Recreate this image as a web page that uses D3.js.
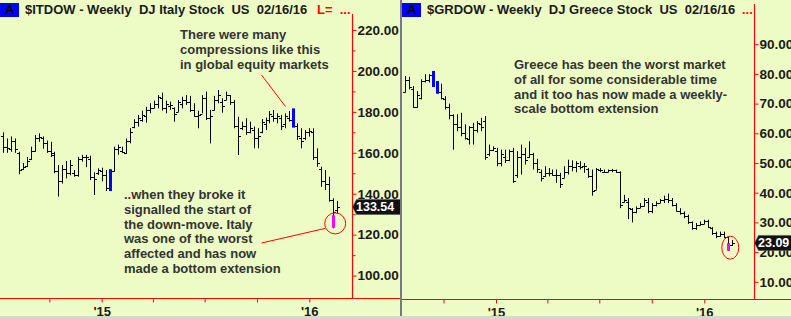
<!DOCTYPE html>
<html>
<head>
<meta charset="utf-8">
<script src="https://cdn.jsdelivr.net/npm/d3@7/dist/d3.min.js"></script>
<style>
  html, body { margin: 0; padding: 0; background: #edfcc5; }
  svg { display: block; font-family: "Liberation Sans", Arial, sans-serif; }
  text { white-space: pre; }
</style>
</head>
<body>
<div id="chart"></div>
<script>
// weekly bars, one per Friday
const itFirstWeek = new Date(2014, 6, 11);
const grFirstWeek = new Date(2014, 6, 25);
const lastWeek = new Date(2016, 1, 19);

// $ITDOW - DJ Italy (weekly OHLC)
const itOpen = [168,163,162,166,160,152,153.5,157,161,167, 167,165,161,159,151,146,152,150,150,149,
  157,158,157,148,150,151,149,143,151,162, 161,160,166,172.5,175,176,178,181,182,184,
  187,182,183,182,180,184,186,185,181,178, 179,187,177,181,186,185,186,188,185,173,
  172,173,170,171,167,170,174,176,178,177, 177,174,177,176,173,167,167,170,170,158,
  152,146,145,137,132];
const itHigh = [170,167,168,167,160.5,155,158,163,168.7,169.5, 168,166,165.4,160.5,154,154,156,156.5,151.6,158,
  159,159,158.6,150.5,152.4,152.7,151.6,152,163,164, 163,167,172,176.4,178.5,180.6,182.5,184.2,185.5,188.2,
  189.4,185.5,185,182.2,185.8,187.4,188.2,187.8,184.2,180.6, 188.2,189.9,181,187.8,190.7,186.6,189.9,188.2,185.8,177.6,
  175.2,176.9,175.2,172.8,172,176.5,177.2,180.4,180.9,179.3, 178.5,179.3,180.4,181.7,174.4,172,171.1,172,172,162.2,
  153.2,151.6,148.3,137.8,136.5];
const itLow = [160,160,160.5,160,149.5,151.6,153,156.5,160.5,165.4, 162,160,158,150,138.6,145,147.5,149,148.3,148.3,
  155.7,153,146.7,139.4,149.2,146,141.3,141.3,150.8,159, 159.8,159.4,164.6,172,172.8,175.2,174.7,179.3,181.7,181.7,
  180.6,179.3,181,175.2,180,181.7,183.4,180,177.6,172, 179.3,176,164.6,180.6,184.2,179.6,185.8,183.4,172,158.9,
  171.1,168.7,169.5,162.2,162.2,169.5,171.1,174.4,175.2,174.4, 171.1,172,175.2,172.3,166.3,162.2,166.3,167.9,156.5,153.2,
  143.4,141.8,136.1,123.1,130.5];
const itClose = [163,162.5,166,162,151.5,153,156,161,167,167.5, 165,161,160,151,146,152,150,154,149,157,
  158,158,148,147,151.5,149,143,151,162,163, 160.5,166,170,175,177,178.5,181,182,184,187.5,
  182,184,183.5,179,185,186,185,181,178,178.5, 187,177,178,186,188,183,188,185,173,168,
  173,170,172,167,168,175,176,179,177,178, 173,178,176,173,168,166,170,170.5,158,155,
  146,145,137,131,133.54];
const itBlueBars = [27, 73];
const itPinkBar = 83, itPinkRange = [123.4, 129.5];

// $GRDOW - DJ Greece (weekly OHLC)
const grOpen = [74,78,75,69,72,77.5,78,80,76,74, 71.5,69,66,63,62,60,58,62,61,63,
  64,53,54.5,54,50,52,51,54,46,52, 53,52,53,50,47,45.5,46.5,46.5,46,46,
  45,47,49,48.5,49,49,48,45.5,41,47.5, 47,47,47.5,47.5,47,37,37,34.5,33.5,35,
  35.5,37,34,36,36.5,37.5,38,37.5,36,34, 33,32,30,28,29,29.5,30.5,28,26.5,25.5,
  26,25,22.5];
const grHigh = [79.3,79,75.9,74.2,78.2,79.9,79.9,81,77.6,76.7, 72.5,70,66.4,66.4,66.9,63,62.4,63.5,64.1,65.2,
  65.8,56.2,55.6,55.1,54.5,54.5,54.5,55.1,54,56.2, 55.1,57.3,53.4,51.4,47.8,48.9,48.3,47.8,47.8,46.7,
  48.9,51.1,50.9,50.6,50.6,50,48.3,47.8,48.3,48.3, 47.8,47.8,48,47.8,47.2,39.3,38.2,34.8,35.4,36.5,
  38.2,38.2,36.5,37.1,37.9,39,39.7,38.2,36.5,34.8, 33.7,32.6,30.3,29.8,30.3,30.9,30.9,28.4,26.9,26.9,
  26.9,25.2,24.1];
const grLow = [73.7,74.8,68.6,68.6,71.4,77.1,77.1,75.6,73.3,71.4, 68,64.7,54.5,60.7,59,57.9,56.2,56.2,60.2,60.7,
  51.1,52.3,54,48.9,48.9,50,50.6,43.3,45,46.1, 49.5,51.7,47.8,46.7,43.8,45.3,45.5,45.7,43.3,41.6,
  45,46.1,47.2,46.9,47.8,46.7,45,39,41,46.9, 46.7,46.9,46.9,46.7,34.8,36.7,31.1,30,33.1,34.8,
  35.4,33.1,33.1,35.4,36.5,36.5,36.5,35.4,33.7,32.6, 31.4,29.5,27.5,27.5,28.9,29.4,28.1,25.8,24.7,25.2,
  24.7,20.4,22.1];
const grClose = [78,75.5,69,73,77.5,78,79.5,76,74,72, 69,66,63,62,60,58.5,62,61,63.5,62,
  52,54.5,55,50,53,51,54,44,52,53, 51,53,50,48,45,46.5,46.5,46,46,43,
  47,49,48.5,50,48.5,49,45.5,40.5,48,47.5, 47,47.5,47.5,47,36,37.5,35,33.5,35,35.5,
  37.5,34,36,36.5,37.5,38,37.5,36,34,33, 32,30,28,29,29.5,30.5,28.5,26.5,25.5,26,
  25,22.5,23.09];
const grBlueBars = [7, 8];
const grPinkBar = 81, grPinkRange = [20.4, 23];

// axes
const itTicks = [100, 120, 140, 160, 180, 200, 220];
const itMinorTicks = [110, 130, 150, 170, 190, 210];
const grTicks = [10, 20, 30, 40, 50, 60, 70, 80, 90];
const quarterTicks = [new Date(2014, 9, 1), new Date(2015, 0, 1), new Date(2015, 3, 1),
  new Date(2015, 6, 1), new Date(2015, 9, 1), new Date(2016, 0, 1)];
const yearLabels = {2015: "'15", 2016: "'16"};

const itTitle = '$ITDOW - Weekly  DJ Italy Stock  US  02/16/16';
const grTitle = '$GRDOW - Weekly  DJ Greece Stock  US  02/16/16';
const itNoteTop = ['There were many', 'compressions like this', 'in global equity markets'];
const itNoteBottom = ['..when they broke it', 'signalled the start of', 'the down-move. Italy',
  'was one of the worst', 'affected and has now', 'made a bottom extension'];
const grNote = ['Greece has been the worst market', 'of all for some considerable time',
  'and it too has now made a weekly-', 'scale bottom extension'];

const W = 791, H = 319;
const RED = '#ff0000', INK = '#1a1a1a', NOTE = '#333333';

const svg = d3.select('#chart').append('svg').attr('width', W).attr('height', H);
svg.append('rect').attr('width', W).attr('height', H).attr('fill', '#edfcc5');
const defs = svg.append('defs');

function drawPanel(p) {
  const g = svg.append('g');
  const clipId = 'clip-' + p.id;
  defs.append('clipPath').attr('id', clipId)
    .append('rect').attr('x', p.x0).attr('y', p.top).attr('width', p.axisX - p.x0).attr('height', p.baseY - p.top);
  const panelClip = 'panel-' + p.id;
  defs.append('clipPath').attr('id', panelClip)
    .append('rect').attr('x', p.x0).attr('y', 0).attr('width', p.x1 - p.x0).attr('height', H);

  const x = d3.scaleTime().domain([new Date(2015, 0, 1), new Date(2016, 0, 1)]).range(p.xYears);
  const y = d3.scaleLinear().domain(p.yDomain).range(p.yRange);
  const dates = d3.timeFriday.range(p.first, d3.timeDay.offset(lastWeek, 1));

  // bars
  const bars = g.append('g').attr('clip-path', `url(#${clipId})`);
  dates.forEach((d, i) => {
    const px = Math.round(x(d)) + 0.5;
    if (p.blue.includes(i)) {
      bars.append('rect').attr('x', px - 1.5).attr('width', 3)
        .attr('y', y(p.high[i])).attr('height', y(p.low[i]) - y(p.high[i])).attr('fill', '#0000ff');
      return;
    }
    const yo = Math.round(y(p.open[i])) + 0.5, yc = Math.round(y(p.close[i])) + 0.5;
    bars.append('line').attr('x1', px).attr('x2', px).attr('y1', y(p.high[i])).attr('y2', y(p.low[i]))
      .attr('stroke', '#000').attr('stroke-width', 1);
    bars.append('line').attr('x1', px - 2.5).attr('x2', px).attr('y1', yo).attr('y2', yo).attr('stroke', '#000');
    bars.append('line').attr('x1', px).attr('x2', px + 2.5).attr('y1', yc).attr('y2', yc).attr('stroke', '#000');
    if (i === p.pink) {
      bars.append('rect').attr('x', px - 1.5).attr('width', 3)
        .attr('y', y(p.pinkRange[1])).attr('height', y(p.pinkRange[0]) - y(p.pinkRange[1])).attr('fill', '#ff00ff');
    }
  });

  const frame = g.append('g').attr('clip-path', `url(#${panelClip})`);

  // x axis
  frame.append('line').attr('x1', p.x0).attr('x2', p.x1).attr('y1', p.baseY).attr('y2', p.baseY)
    .attr('stroke', RED).attr('stroke-width', 1.2);
  const xAxis = frame.append('g').attr('transform', `translate(0,${p.baseY})`)
    .call(d3.axisBottom(x).tickValues(quarterTicks).tickSize(4).tickPadding(4)
      .tickFormat(d => d.getMonth() === 0 ? yearLabels[d.getFullYear()] : ''));
  xAxis.select('.domain').remove();
  xAxis.selectAll('line').attr('stroke', RED);
  xAxis.selectAll('text').attr('fill', INK).attr('font-size', 13).attr('font-weight', 'bold')
    .attr('font-family', '"Liberation Sans", Arial, sans-serif');

  // y axis
  frame.append('line').attr('x1', p.axisX).attr('x2', p.axisX).attr('y1', p.top).attr('y2', p.baseY)
    .attr('stroke', RED).attr('stroke-width', 1.2);
  const yAxis = frame.append('g').attr('transform', `translate(${p.axisX},0)`)
    .call(d3.axisRight(y).tickValues(p.ticks).tickSize(4).tickPadding(1).tickFormat(d3.format('.2f')));
  yAxis.select('.domain').remove();
  yAxis.selectAll('line').attr('stroke', RED);
  yAxis.selectAll('text').attr('fill', INK).attr('font-size', 13.5).attr('font-weight', 'bold')
    .attr('font-family', '"Liberation Sans", Arial, sans-serif');
  if (p.minor.length) {
    const minor = frame.append('g').attr('transform', `translate(${p.axisX},0)`)
      .call(d3.axisRight(y).tickValues(p.minor).tickSize(3).tickFormat(''));
    minor.select('.domain').remove();
    minor.selectAll('line').attr('stroke', RED);
  }

  // last value tag
  const last = p.close[p.close.length - 1];
  const ty = y(last), tx = p.axisX;
  frame.append('path')
    .attr('d', `M${tx},${ty} L${tx + 4},${ty - 7.5} L${p.x1 + 4},${ty - 7.5} L${p.x1 + 4},${ty + 7.5} L${tx + 4},${ty + 7.5} Z`)
    .attr('fill', '#111').attr('stroke', '#555').attr('stroke-width', 0.6);
  frame.append('text').attr('x', tx + 3.5).attr('y', ty + 4.5).text(last.toFixed(2))
    .attr('fill', '#fff').attr('font-size', 12.5).attr('font-weight', 'bold');

  // title
  frame.append('rect').attr('x', p.x0).attr('y', 3).attr('width', 19).attr('height', 14).attr('fill', '#0000ff');
  frame.append('text').attr('x', p.x0 + 5).attr('y', 14).text('A')
    .attr('fill', '#000').attr('font-size', 13).attr('font-weight', 'bold');
  const titleClip = 'title-' + p.id;
  defs.append('clipPath').attr('id', titleClip)
    .append('rect').attr('x', p.x0).attr('y', 0).attr('width', p.titleMax - p.x0).attr('height', 20);
  frame.append('text').attr('x', p.x0 + 25).attr('y', 14).text(p.title)
    .attr('clip-path', `url(#${titleClip})`)
    .attr('fill', INK).attr('font-size', 13).attr('font-weight', 'bold');
  frame.append('text').attr('x', p.tagX).attr('y', 14).text(p.tag)
    .attr('fill', RED).attr('font-size', 13).attr('font-weight', 'bold');

  return { g: frame, x, y, dates };
}

function note(g, lines, x0, y0) {
  g.append('text').attr('fill', NOTE).attr('font-size', 13).attr('font-weight', 'bold')
    .selectAll('tspan').data(lines).join('tspan')
    .attr('x', x0).attr('y', (d, i) => y0 + i * 14.75).text(d => d);
}

const it = drawPanel({
  id: 'it', x0: 0, x1: 400, axisX: 352.5, top: 14, baseY: 298.5,
  xYears: [101.7, 309.3], yDomain: [100, 220], yRange: [275.6, 30],
  first: itFirstWeek, open: itOpen, high: itHigh, low: itLow, close: itClose,
  blue: itBlueBars, pink: itPinkBar, pinkRange: itPinkRange,
  ticks: itTicks, minor: itMinorTicks,
  title: itTitle, titleMax: 316, tag: 'L=  ...', tagX: 317
});
note(it.g, itNoteTop, 180, 39);
note(it.g, itNoteBottom, 124, 199);
it.g.append('line').attr('x1', 261.5).attr('y1', 75).attr('x2', 285.5).attr('y2', 106.5)
  .attr('stroke', RED).attr('stroke-width', 1);
const itCx = it.x(it.dates[itPinkBar]) + 2, itCy = it.y(125.5);
it.g.append('circle').attr('cx', itCx).attr('cy', itCy).attr('r', 10.5)
  .attr('fill', 'none').attr('stroke', RED).attr('stroke-width', 1);
it.g.append('line').attr('x1', 261.5).attr('y1', 243).attr('x2', itCx - 10).attr('y2', itCy + 5)
  .attr('stroke', RED).attr('stroke-width', 1);

const gr = drawPanel({
  id: 'gr', x0: 402, x1: 791, axisX: 754.5, top: 4, baseY: 299.5,
  xYears: [496, 704.3], yDomain: [10, 90], yRange: [281.8, 44.2],
  first: grFirstWeek, open: grOpen, high: grHigh, low: grLow, close: grClose,
  blue: grBlueBars, pink: grPinkBar, pinkRange: grPinkRange,
  ticks: grTicks, minor: [],
  title: grTitle, titleMax: 737, tag: '...', tagX: 742
});
note(gr.g, grNote, 514, 69);
gr.g.append('ellipse').attr('cx', gr.x(gr.dates[grPinkBar]) + 2).attr('cy', gr.y(21.5))
  .attr('rx', 8.5).attr('ry', 11.5).attr('fill', 'none').attr('stroke', RED).attr('stroke-width', 1);

// panel separator and bottom strip
svg.append('rect').attr('x', 400).attr('y', 0).attr('width', 2).attr('height', H).attr('fill', '#7a7a7a');
svg.append('rect').attr('x', 0).attr('y', 316).attr('width', W).attr('height', 3).attr('fill', '#d6d6d2');
</script>
</body>
</html>
